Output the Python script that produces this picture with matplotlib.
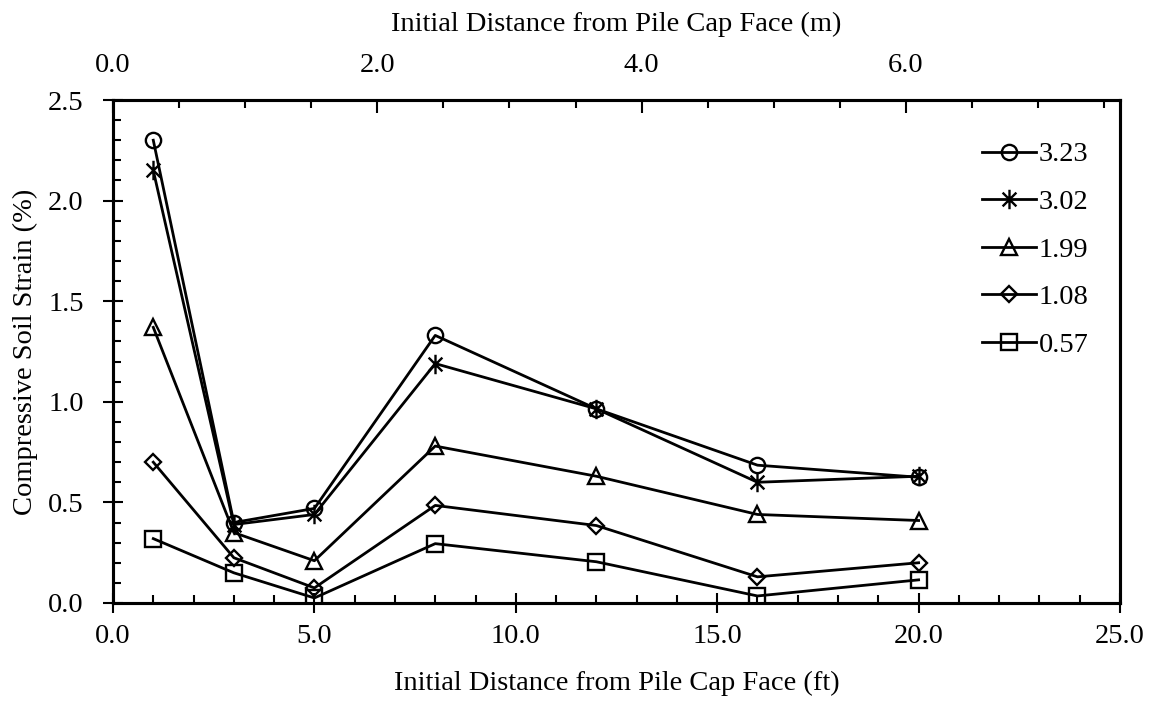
import matplotlib.pyplot as plt
import numpy as np
from matplotlib.path import Path
from matplotlib.ticker import MultipleLocator, FormatStrFormatter

plt.rcParams["font.family"] = ["Liberation Serif", "DejaVu Serif"]
plt.rcParams["font.size"] = 20.5

FT_TO_M = 0.3048

distance_ft = [1, 3, 5, 8, 12, 16, 20]
labels = ["3.23", "3.02", "1.99", "1.08", "0.57"]
strain_323 = [2.30, 0.40, 0.47, 1.33, 0.965, 0.685, 0.625]
strain_302 = [2.15, 0.39, 0.44, 1.19, 0.965, 0.60, 0.63]
strain_199 = [1.37, 0.35, 0.21, 0.78, 0.63, 0.44, 0.41]
strain_108 = [0.70, 0.225, 0.075, 0.485, 0.385, 0.13, 0.20]
strain_057 = [0.32, 0.15, 0.025, 0.295, 0.205, 0.035, 0.115]

# excel-style asterisk: X plus a vertical bar
d = 0.5 ** 0.5
star = Path([(-d, -d), (d, d), (-d, d), (d, -d), (0, -1), (0, 1)],
            [Path.MOVETO, Path.LINETO, Path.MOVETO, Path.LINETO, Path.MOVETO, Path.LINETO])

series = [strain_323, strain_302, strain_199, strain_108, strain_057]
markers = ["o", star, "^", "D", "s"]
sizes = [11, 14, 11.5, 8.5, 11]

fig = plt.figure(figsize=(11.57, 7.07), dpi=100)
ax = fig.add_axes([113 / 1157, 1 - 603 / 707, 1007 / 1157, 503 / 707])

for vals, lab, m, ms in zip(series, labels, markers, sizes):
    ax.plot(distance_ft, vals, color="black", lw=2.0, marker=m, ms=ms,
            mfc="none", mec="black", mew=1.7, label=lab)

ax.set_xlim(0, 25)
ax.set_ylim(0, 2.5)
ax.xaxis.set_major_locator(MultipleLocator(5))
ax.xaxis.set_minor_locator(MultipleLocator(1))
ax.yaxis.set_major_locator(MultipleLocator(0.5))
ax.yaxis.set_minor_locator(MultipleLocator(0.1))
ax.xaxis.set_major_formatter(FormatStrFormatter("%.1f"))
ax.yaxis.set_major_formatter(FormatStrFormatter("%.1f"))
ax.tick_params(which="major", direction="inout", length=14, width=1.5)
ax.tick_params(which="minor", direction="in", length=6, width=1.5)
ax.tick_params(axis="x", which="major", pad=8)
ax.tick_params(axis="y", which="major", pad=14)
ax.tick_params(axis="x", which="both", top=False)
for s in ax.spines.values():
    s.set_linewidth(2.2)

ax.set_xlabel("Initial Distance from Pile Cap Face (ft)", labelpad=16)
ax.set_ylabel("Compressive Soil Strain (%)", labelpad=7)

top = ax.twiny()
top.set_xlim(0, 25 * FT_TO_M)
top.xaxis.set_major_locator(MultipleLocator(2))
top.xaxis.set_minor_locator(MultipleLocator(0.5))
top.xaxis.set_major_formatter(FormatStrFormatter("%.1f"))
top.tick_params(which="major", direction="in", length=9, width=1.5, pad=16)
top.tick_params(which="minor", direction="in", length=6, width=1.5)
for s in top.spines.values():
    s.set_linewidth(2.2)
top.set_xlabel("Initial Distance from Pile Cap Face (m)", labelpad=16)

ax.legend(loc="upper right", frameon=False, handlelength=1.9, handletextpad=0.1,
          labelspacing=0.76, borderaxespad=0.0, bbox_to_anchor=(0.98, 0.94))

fig.savefig("out.png", dpi=100)
